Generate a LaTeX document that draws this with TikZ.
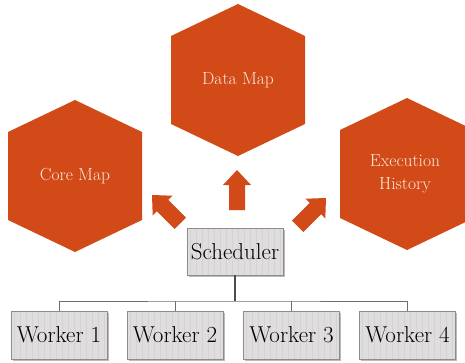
\documentclass[tikz,border=0pt]{standalone}
\usetikzlibrary{shadows}
\definecolor{hexorange}{RGB}{209,74,23}
\definecolor{hextext}{RGB}{251,233,221}
\definecolor{boxfill}{RGB}{223,221,221}
\definecolor{boxstripe}{RGB}{212,210,210}
\definecolor{boxline}{RGB}{140,140,140}
\definecolor{treeline}{RGB}{110,110,110}
\newcommand\drawhex[1]{\fill[hexorange] (#1) ++(0,76) -- ++(67,-32) -- ++(0,-88) -- ++(-67,-32) -- ++(-67,32) -- ++(0,88) -- cycle;}
\tikzset{
  hexlabel/.style={text=hextext, align=center, font=\fontsize{17.5}{23}\selectfont},
  workbox/.style={draw=boxline, line width=0.8pt, fill=boxfill, inner sep=0pt,
    minimum width=96pt, minimum height=48pt, font=\fontsize{23}{26}\selectfont,
    drop shadow={shadow xshift=1.5pt, shadow yshift=-2pt, opacity=0.45, fill=black!60},
    path picture={\foreach \i in {3,9,...,99}
      \draw[boxstripe, line width=0.6pt] ([xshift=\i pt]path picture bounding box.south west) -- ([xshift=\i pt]path picture bounding box.north west);}},
  tree/.style={draw=treeline, line width=0.9pt},
  blockarrow/.pic={\fill[hexorange] (0,0) -- (14,-15) -- (8,-15) -- (8,-40) -- (-8,-40) -- (-8,-15) -- (-14,-15) -- cycle;}
}
\begin{document}
\begin{tikzpicture}[x=1pt,y=1pt]
\useasboundingbox (0,0) rectangle (465,362);
\clip (0,0) rectangle (465,362);
% hexagons
\coordinate (cdata) at (238,282);
\coordinate (ccore) at (75,186);
\coordinate (cexec) at (407,188);
\drawhex{cdata}
\drawhex{ccore}
\drawhex{cexec}
\node[hexlabel] (data) at (cdata) {Data Map};
\node[hexlabel] (core) at (ccore) {Core Map};
\node[hexlabel] (exec) at (405,188) {Execution\\History};
% block arrows
\pic (aup) at (237,192) {blockarrow};
\pic[rotate=45] (aleft) at (152,167) {blockarrow};
\pic[rotate=-45] (aright) at (326,164) {blockarrow};
% boxes
\node[workbox, minimum height=47pt] (sched) at (235,110.5) {Scheduler};
\node[workbox] (w1) at (59,27) {Worker 1};
\node[workbox] (w2) at (175,27) {Worker 2};
\node[workbox] (w3) at (291.5,27) {Worker 3};
\node[workbox] (w4) at (407.5,27) {Worker 4};
% tree connectors
\coordinate (bus) at (235,61);
\draw[tree, line width=1.1pt, draw=black!70] (sched.south) -- (bus);
\draw[tree] (w1.north) |- (bus) -| (w4.north);
\draw[tree] (w2.north) -- (w2.north |- bus);
\draw[tree] (w3.north) -- (w3.north |- bus);
\end{tikzpicture}
\end{document}
